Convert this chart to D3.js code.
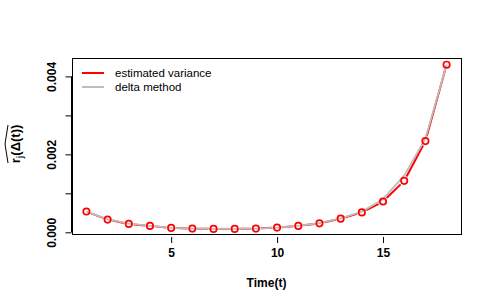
<!DOCTYPE html>
<html>
<head>
<meta charset="utf-8">
<script src="https://cdn.jsdelivr.net/npm/d3@7"></script>
<style>
  body { margin: 0; background: #fff; }
  text { font-family: "Liberation Sans", Arial, sans-serif; }
</style>
</head>
<body>
<div id="chart"></div>
<script>
"use strict";

// time points
const times = [1, 2, 3, 4, 5, 6, 7, 8, 9, 10, 11, 12, 13, 14, 15, 16, 17, 18];
// estimated variance (red)
const estVar = [0.000532, 0.000326, 0.000215, 0.000164, 0.000113, 0.000095, 0.000087, 0.000087, 0.000095,
  0.00012, 0.000164, 0.00023, 0.00035, 0.00051, 0.00079, 0.00132, 0.00234, 0.0043];
// delta method (grey)
const deltaVar = [0.00053, 0.00033, 0.00022, 0.000165, 0.000115, 0.000096, 0.000088, 0.000088, 0.000096,
  0.000122, 0.000166, 0.000235, 0.000355, 0.00053, 0.00085, 0.00146, 0.0024, 0.0043];
const xTicks = [5, 10, 15];
const yTicks = [0, 0.001, 0.002, 0.003, 0.004];
const yTickLabels = ["0.000", "", "0.002", "", "0.004"];

const width = 491, height = 307;
const margin = {top: 58, right: 30, bottom: 73, left: 72};

const svg = d3.select("#chart").append("svg")
  .attr("width", width)
  .attr("height", height);

const x = d3.scaleLinear()
  .domain([1 - 17 * 0.04, 18 + 17 * 0.04])
  .range([margin.left, width - margin.right]);

const y = d3.scaleLinear()
  .domain([0, 0.004])
  .range([232.3, 76.4]);

const plotBottom = height - margin.bottom;

// plot frame
svg.append("rect")
  .attr("x", margin.left + 0.5)
  .attr("y", margin.top + 0.5)
  .attr("width", width - margin.right - margin.left)
  .attr("height", plotBottom - margin.top)
  .attr("fill", "none")
  .attr("stroke", "#000")
  .attr("stroke-width", 1);

// x axis (detached from the box, like R)
const xAxis = svg.append("g")
  .attr("transform", `translate(0,${plotBottom + 3})`)
  .call(d3.axisBottom(x).tickValues(xTicks).tickSize(6).tickSizeOuter(0).tickPadding(5));
xAxis.select(".domain").remove();
xAxis.selectAll(".tick line").attr("stroke", "#000");
xAxis.selectAll(".tick text")
  .attr("font-size", 12)
  .attr("font-weight", "bold")
  .attr("fill", "#000")
  .style("font-family", "Liberation Sans, Arial, sans-serif");

// y axis
const yAxis = svg.append("g")
  .attr("transform", `translate(${margin.left - 0.5},0)`)
  .call(d3.axisLeft(y).tickValues(yTicks).tickSize(6).tickPadding(0).tickFormat((d, i) => yTickLabels[i]));
yAxis.select(".domain")
  .attr("d", `M0,${y(0)}V${y(0.004)}`)
  .attr("stroke", "#000");
yAxis.selectAll(".tick line").attr("stroke", "#000");
yAxis.selectAll(".tick text")
  .attr("font-size", 12)
  .attr("font-weight", "bold")
  .attr("fill", "#000")
  .attr("text-anchor", "middle")
  .attr("dy", 0)
  .attr("transform", "translate(-19,0) rotate(-90)")
  .attr("x", 0)
  .attr("y", 0)
  .attr("dominant-baseline", "middle")
  .style("font-family", "Liberation Sans, Arial, sans-serif");

// x label
svg.append("text")
  .attr("x", (margin.left + width - margin.right) / 2)
  .attr("y", 287)
  .attr("text-anchor", "middle")
  .attr("font-size", 12)
  .attr("font-weight", "bold")
  .text("Time(t)");

// y label: hat over r_j(Δ(t))
const yl = svg.append("g")
  .attr("transform", "translate(20,144) rotate(-90)");
const ylText = yl.append("text")
  .attr("text-anchor", "middle")
  .attr("font-size", 13)
  .attr("font-weight", "bold");
ylText.append("tspan").text("r");
ylText.append("tspan").attr("font-size", 9).attr("dy", 3).text("j");
ylText.append("tspan").attr("dy", -3).text("(Δ(t))");
yl.append("path")
  .attr("d", "M-19,-12 L0,-15 L19,-12")
  .attr("fill", "none")
  .attr("stroke", "#000")
  .attr("stroke-width", 1);

const ptsEst = times.map((t, i) => [x(t), y(estVar[i])]);
const ptsDelta = times.map((t, i) => [x(t), y(deltaVar[i])]);

// red segments with gaps around the points (type = "b")
const gap = 5;
const segs = [];
for (let i = 0; i < ptsEst.length - 1; i++) {
  const [x0, y0] = ptsEst[i], [x1, y1] = ptsEst[i + 1];
  const len = Math.hypot(x1 - x0, y1 - y0);
  if (len > 2 * gap) {
    const ux = (x1 - x0) / len, uy = (y1 - y0) / len;
    segs.push([x0 + ux * gap, y0 + uy * gap, x1 - ux * gap, y1 - uy * gap]);
  }
}
svg.append("g").selectAll("line")
  .data(segs)
  .enter()
  .append("line")
  .attr("x1", d => d[0]).attr("y1", d => d[1])
  .attr("x2", d => d[2]).attr("y2", d => d[3])
  .attr("stroke", "#ff0000")
  .attr("stroke-width", 2);

// grey delta method line
svg.append("path")
  .datum(ptsDelta)
  .attr("d", d3.line())
  .attr("fill", "none")
  .attr("stroke", "#bebebe")
  .attr("stroke-width", 1.8);

// red open circles
svg.append("g").selectAll("circle")
  .data(ptsEst)
  .enter()
  .append("circle")
  .attr("cx", d => d[0])
  .attr("cy", d => d[1])
  .attr("r", 3.2)
  .attr("fill", "none")
  .attr("stroke", "#ff0000")
  .attr("stroke-width", 1.7);

// legend
const legendItems = [
  {label: "estimated variance", color: "#ff0000"},
  {label: "delta method", color: "#bebebe"}
];
const legend = svg.append("g").selectAll("g")
  .data(legendItems)
  .enter()
  .append("g")
  .attr("transform", (d, i) => `translate(82,${73 + i * 14})`);
legend.append("line")
  .attr("x1", 0).attr("x2", 22)
  .attr("stroke", d => d.color)
  .attr("stroke-width", 2);
legend.append("text")
  .attr("x", 33)
  .attr("dy", "0.35em")
  .attr("font-size", 11.5)
  .attr("fill", "#000")
  .text(d => d.label);
</script>
</body>
</html>
